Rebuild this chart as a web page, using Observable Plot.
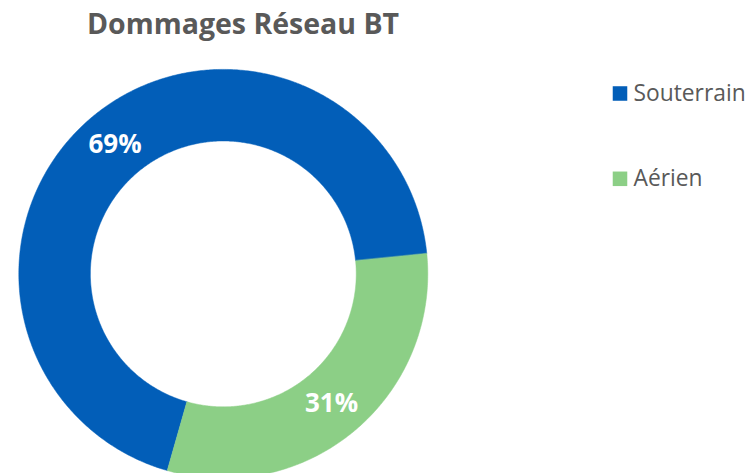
<!DOCTYPE html>
<html>
<head>
<meta charset="utf-8">
<script src="https://cdn.jsdelivr.net/npm/d3@7"></script>
<script src="https://cdn.jsdelivr.net/npm/@observablehq/plot@0.6"></script>
<style>
  html, body { margin: 0; padding: 0; background: #fff; }
  #chart { width: 748px; height: 473px; overflow: hidden; }
</style>
</head>
<body>
<div id="chart"></div>
<script>
const title = "Dommages Réseau BT";
const categories = ["Souterrain", "Aérien"];
const values = [69, 31];
const labels = ["69%", "31%"];
const colors = ["#025EB8", "#8CCF86"];

const W = 748, H = 473;
const cx = 222.8, cy = 273.4, R = 204.5, innerRatio = 0.65;
const startDeg = 195.9;

const data = categories.map((name, i) => ({name, value: values[i], label: labels[i]}));
const pie = d3.pie().sort(null).value(d => d.value)
  .startAngle(startDeg * Math.PI / 180)
  .endAngle(startDeg * Math.PI / 180 + 2 * Math.PI);
const arcs = pie(data);

// ring outline points (unit radius), derived from the pie angles
const ringPts = [];
for (const a of arcs) {
  const n = Math.max(2, Math.ceil((a.endAngle - a.startAngle) / (Math.PI / 360)));
  const outer = [], inner = [];
  for (let k = 0; k <= n; k++) {
    const t = a.startAngle + (a.endAngle - a.startAngle) * k / n;
    outer.push({name: a.data.name, x: Math.sin(t), y: -Math.cos(t)});
    inner.push({name: a.data.name, x: innerRatio * Math.sin(t), y: -innerRatio * Math.cos(t)});
  }
  ringPts.push(...outer, ...inner.reverse());
}
const mid = (1 + innerRatio) / 2;
const labelPts = arcs.map(a => {
  const t = (a.startAngle + a.endAngle) / 2;
  return {name: a.data.name, label: a.data.label, x: mid * Math.sin(t), y: -mid * Math.cos(t)};
});

const font = "'Open Sans', 'Noto Sans', sans-serif";

const legendMarks = categories.flatMap((c, i) => [
  Plot.dot([c], {frameAnchor: "top-left", dx: 619.5, dy: 93 + i * 85.3, symbol: "square", r: 8.2, fill: colors[i], stroke: "none"}),
  Plot.text([c], {frameAnchor: "top-left", dx: 633, dy: 100.3 + i * 85.3, text: d => d, textAnchor: "start", lineAnchor: "bottom", fill: "#595959", fontSize: 22.8, fontFamily: font})
]);

const chart = Plot.plot({
  width: W, height: H,
  margin: 0,
  x: {domain: [-cx / R, (W - cx) / R], range: [0, W], axis: null},
  y: {domain: [-cy / R, (H - cy) / R], range: [0, H], axis: null},
  color: {domain: categories, range: colors},
  style: {background: "#fff", fontFamily: font},
  marks: [
    Plot.line(ringPts, {x: "x", y: "y", z: "name", fill: "name", stroke: "name", strokeWidth: 0.5, curve: "linear-closed"}),
    Plot.text(labelPts, {x: "x", y: "y", text: "label", fill: "#fff", fontSize: 26, fontWeight: "bold", fontFamily: font, textAnchor: "middle", lineAnchor: "middle"}),
    Plot.text([title], {frameAnchor: "top-left", dx: 242.5, dy: 33.5, text: d => d, textAnchor: "middle", lineAnchor: "bottom", fill: "#595959", fontSize: 28.5, fontWeight: "bold", fontFamily: font}),
    ...legendMarks
  ]
});
document.getElementById("chart").appendChild(chart);
</script>
</body>
</html>
